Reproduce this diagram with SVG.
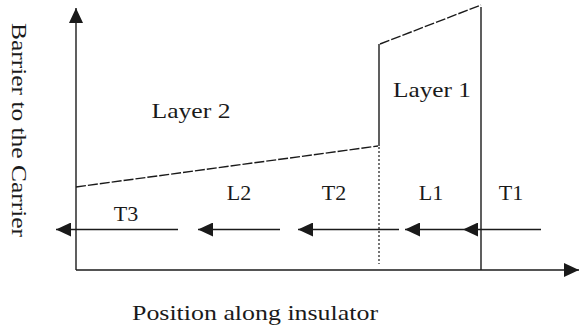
<svg xmlns="http://www.w3.org/2000/svg" width="579" height="334" viewBox="0 0 579 334">
<defs>
<style>
.ln{stroke:#1a1a1a;stroke-width:1.4;fill:none}
.dash{stroke:#1a1a1a;stroke-width:1.4;fill:none;stroke-dasharray:10 2}
.dot{stroke:#1a1a1a;stroke-width:1.2;fill:none;stroke-dasharray:2 2}
.ar{marker-end:url(#ah)}
text{font-family:"Liberation Serif","Times New Roman",serif;fill:#1a1a1a}
.lab{font-size:22px;text-anchor:middle}
</style>
<marker id="ah" markerUnits="userSpaceOnUse" markerWidth="15" markerHeight="14" refX="15" refY="7" orient="auto" viewBox="0 0 15 14">
<path d="M0,0 L15,7 L0,14 Z" fill="#1a1a1a"/>
</marker>
</defs>
<rect width="579" height="334" fill="#fff"/>
<g id="axes">
<line class="ln ar" x1="76" y1="270" x2="76" y2="8"/>
<line class="ln ar" x1="76" y1="270" x2="579" y2="270"/>
</g>
<g id="layer2">
<line class="dash" x1="76" y1="187" x2="378" y2="146"/>
</g>
<g id="layer1">
<line class="ln" x1="379" y1="146" x2="379" y2="44"/>
<line class="dot" x1="379" y1="147" x2="379" y2="264"/>
<line class="dash" x1="380" y1="44" x2="481" y2="5"/>
<line class="ln" x1="481" y1="7" x2="481" y2="270"/>
</g>
<g id="connectors">
<line class="ln ar" x1="178" y1="229.5" x2="56" y2="229.5"/>
<line class="ln ar" x1="280" y1="229.5" x2="198" y2="229.5"/>
<line class="ln ar" x1="399" y1="229.5" x2="298" y2="229.5"/>
<line class="ln ar" x1="463" y1="229.5" x2="405" y2="229.5"/>
<line class="ln ar" x1="541" y1="229.5" x2="463" y2="229.5"/>
</g>
<g id="labels">
<text class="lab" x="191" y="118" textLength="79" lengthAdjust="spacingAndGlyphs">Layer 2</text>
<text class="lab" x="432" y="97" textLength="78" lengthAdjust="spacingAndGlyphs">Layer 1</text>
<text class="lab" x="126" y="221">T3</text>
<text class="lab" x="239" y="200">L2</text>
<text class="lab" x="334" y="200">T2</text>
<text class="lab" x="431" y="200">L1</text>
<text class="lab" x="511" y="200">T1</text>
<text x="132" y="320" font-size="22" textLength="246" lengthAdjust="spacingAndGlyphs">Position along insulator</text>
<text transform="translate(12,23) rotate(90)" x="0" y="0" font-size="21" textLength="214" lengthAdjust="spacingAndGlyphs">Barrier to the Carrier</text>
</g>
</svg>
